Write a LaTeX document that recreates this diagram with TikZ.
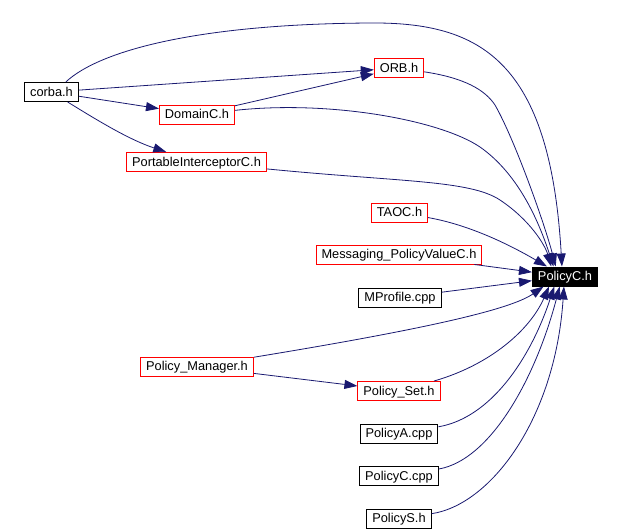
\documentclass[tikz,border=0pt]{standalone}
\usepackage{fontspec}
\setmainfont{Liberation Sans}
\usetikzlibrary{arrows.meta}
\definecolor{edgeblue}{HTML}{191970}
\begin{document}
\begin{tikzpicture}[x=1pt,y=-1pt,
    file/.style={draw=black,line width=1pt,inner xsep=5.5pt,inner ysep=0pt,
        text height=9.2pt,text depth=1.2pt,
        minimum height=19pt,font=\fontsize{12.8}{14}\selectfont},
    redfile/.style={file,draw=red},
    mainfile/.style={file,fill=black,text=white},
    dep/.style={draw=edgeblue,line width=0.8pt,-{Triangle[length=13pt,width=9pt]}},]
    \useasboundingbox (0,0) rectangle (622,531);

    \node[file] (corba) at (51.5,92) {corba.h};
    \node[redfile] (orb) at (399,68) {ORB.h};
    \node[redfile] (domainc) at (197,114.5) {DomainC.h};
    \node[redfile] (portable) at (196.5,162) {PortableInterceptorC.h};
    \node[redfile] (taoc) at (399.5,212.5) {TAOC.h};
    \node[redfile] (messaging) at (399,254.5) {Messaging\_PolicyValueC.h};
    \node[mainfile] (policych) at (565,276.5) {PolicyC.h};
    \node[file] (mprofile) at (400,297.5) {MProfile.cpp};
    \node[redfile] (manager) at (197,366.5) {Policy\_Manager.h};
    \node[redfile] (policyset) at (399,391) {Policy\_Set.h};
    \node[file] (policya) at (399,433.5) {PolicyA.cpp};
    \node[file] (policyccpp) at (399,476) {PolicyC.cpp};
    \node[file] (policys) at (399,518.5) {PolicyS.h};

    \draw[dep] (corba) -- (orb);
    \draw[dep] (corba) -- (domainc);
    \draw[dep] (corba) .. controls (100,122) and (130,140) .. (portable);
    \draw[dep] (corba.35) .. controls (100,50) and (200,24) .. (370,23)
        .. controls (480,22) and (550,60) .. (policych.107);
    \draw[dep] (domainc) -- (orb);
    \draw[dep] (orb) .. controls (465,78) and (485,90) .. (495,105)
        .. controls (515,140) and (545,225) .. (policych.133);
    \draw[dep] (domainc) .. controls (330,100) and (440,120) .. (480,147)
        .. controls (520,175) and (540,225) .. (policych.139);
    \draw[dep] (portable) .. controls (400,182) and (470,180) .. (500,200)
        .. controls (530,220) and (545,245) .. (policych.144);
    \draw[dep] (taoc) .. controls (470,225) and (510,245) .. (policych.151);
    \draw[dep] (messaging) -- (policych);
    \draw[dep] (mprofile) -- (policych);
    \draw[dep] (manager) .. controls (420,330) and (510,310) .. (policych.205);
    \draw[dep] (manager) -- (policyset);
    \draw[dep] (policyset) .. controls (490,365) and (530,330) .. (policych.212);
    \draw[dep] (policya) .. controls (490,418) and (530,360) .. (policych.223);
    \draw[dep] (policyccpp) .. controls (490,460) and (535,380) .. (policych.242);
    \draw[dep] (policys) .. controls (490,505) and (555,420) .. (policych.264);

\end{tikzpicture}
\end{document}
